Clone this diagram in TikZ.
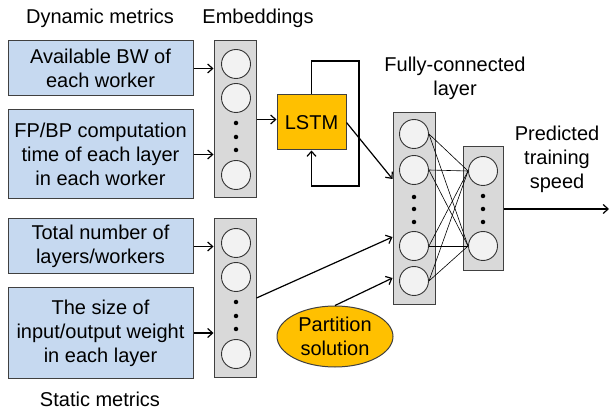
\documentclass[tikz,border=0pt]{standalone}
\usepackage{fontspec}
\setmainfont{Liberation Sans}
\usetikzlibrary{arrows.meta,shapes.geometric}
\definecolor{metricBlue}{RGB}{198,217,240}
\definecolor{lstmOrange}{RGB}{255,192,0}
\begin{document}
\begin{tikzpicture}
[x=1pt,y=-1pt,
  font=\fontsize{20}{24}\selectfont,
  metricDecorate/.style={shape=rectangle,draw=black!75,fill=metricBlue,line width=1pt,
    minimum width=185pt,inner sep=0pt,align=center},%
  columnDecorate/.style={shape=rectangle,draw=black!75,fill=gray!30,line width=1pt,inner sep=0pt},%
  neuronDecorate/.style={shape=circle,draw=black!80,fill=gray!10,line width=0.9pt,minimum size=29pt,inner sep=0pt},%
  dotDecorate/.style={shape=circle,fill=black,minimum size=4.5pt,inner sep=0pt},%
  labelDecorate/.style={align=center,inner sep=0pt},%
  lineDecorate/.style={-{Straight Barb[length=5pt,width=9pt]},line width=1.2pt},%
  wireDecorate/.style={-,line width=0.6pt}]
\useasboundingbox (0,0) rectangle (610,411);
%% labels
\node (dynlabel) at (100,18) [labelDecorate] {Dynamic metrics};
\node (emblabel) at (258,18) [labelDecorate] {Embeddings};
\node (statlabel) at (100,399) [labelDecorate] {Static metrics};
\node (fclabel) at (455,78) [labelDecorate] {Fully-connected\\layer};
\node (speedlabel) at (557,159) [labelDecorate] {Predicted\\training\\speed};
%% metric boxes
\node (bw) at (100.5,68.5) [metricDecorate,minimum height=55pt] {Available BW of\\each worker};
\node (comp) at (100.5,154.5) [metricDecorate,minimum height=89pt] {FP/BP computation\\time of each layer\\in each worker};
\node (total) at (100.5,246.5) [metricDecorate,minimum height=55pt] {Total number of\\layers/workers};
\node (size) at (100.5,333) [metricDecorate,minimum height=90pt] {The size of\\input/output weight\\in each layer};
%% columns
\node (dyncol) at (235,119.5) [columnDecorate,minimum width=42pt,minimum height=157pt] {};
\node (statcol) at (235,298) [columnDecorate,minimum width=42pt,minimum height=158pt] {};
\node (fccol) at (414,209) [columnDecorate,minimum width=42pt,minimum height=192pt] {};
\node (outcol) at (483,209) [columnDecorate,minimum width=40pt,minimum height=124pt] {};
%% neurons
\foreach \nodename/\x/\y in {
  d1/236/64, d2/236/98, d3/236/175,
  s1/236/243, s2/236/277, s3/236/354,
  f1/414/134, f2/414/170, f3/414/246, f4/414/281,
  o1/483/171, o2/483/246}
{
  \node (\nodename) at (\x,\y) [neuronDecorate] {};
}
%% dots
\foreach \x/\y in {
  236/123, 236/137, 236/150, 236/302, 236/316, 236/329,
  414/197, 414/209, 414/222, 483/196, 483/209, 483/222}
{
  \node at (\x,\y) [dotDecorate] {};
}
%% lstm and partition
\node (lstm) at (311.5,122.5) [shape=rectangle,draw=black!75,fill=lstmOrange,line width=1pt,
  minimum width=69pt,minimum height=55pt,inner sep=0pt] {LSTM};
\node (partition) at (335,336.5) [shape=ellipse,draw=black!75,fill=lstmOrange,line width=1pt,
  minimum width=116pt,minimum height=61pt,inner sep=0pt,align=center] {Partition\\solution};
\coordinate (loopNE) at (359,61);
\coordinate (loopSE) at (359,186);
\coordinate (speedEnd) at (609,209);
%% edges or lines
\path
\foreach \startnode/\endnode in {bw/dyncol, comp/dyncol, total/statcol, size/statcol}
{
  (\startnode.east) edge[lineDecorate] (\startnode.east -| \endnode.west)
};
\draw[lineDecorate] (dyncol.east) -- (dyncol.east -| lstm.west);
\draw[lineDecorate] (lstm.north) |- (loopNE) -- (loopSE) -| (lstm.south);
\draw[lineDecorate] (lstm.east) -- ([yshift=30pt]fccol.west);
\draw[lineDecorate] (statcol.east) -- ([yshift=-28pt]fccol.west);
\draw[lineDecorate] (partition.north) -- ([yshift=-69pt]fccol.west);
\draw[lineDecorate] (outcol.east) -- (speedEnd);
\path
\foreach \startnode in {f1, f2, f3, f4}
{
  \foreach \endnode in {o1, o2}
  {
    (\startnode.east) edge[wireDecorate] (\endnode.west)
  }
};
\end{tikzpicture}
\end{document}
